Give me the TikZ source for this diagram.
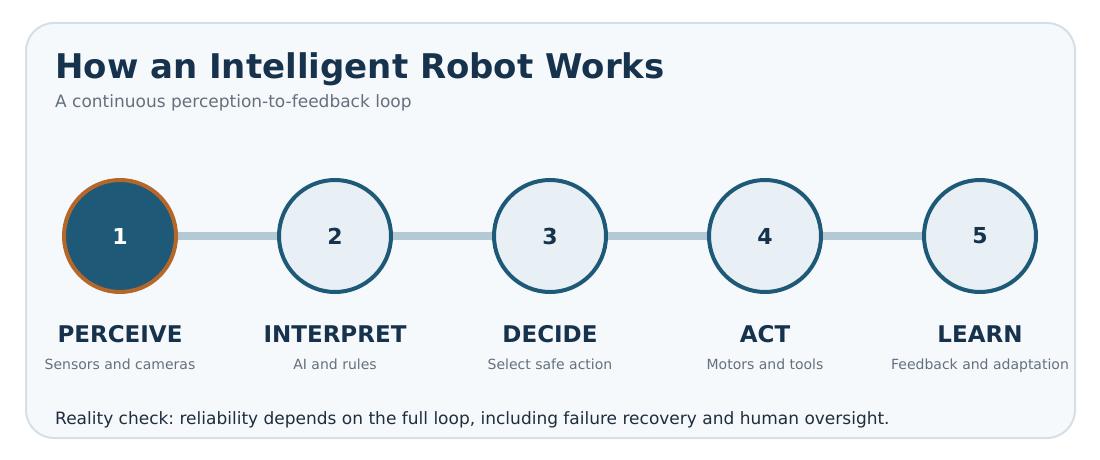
\documentclass[tikz,border=0pt]{standalone}
\usepackage{fontspec}
\setmainfont{DejaVu Sans}
\usepackage{xcolor}
\usepackage{tikz}
\usetikzlibrary{positioning}
\definecolor{cNavy}{HTML}{17324D}
\definecolor{cTeal}{HTML}{1E5A78}
\definecolor{cOrange}{HTML}{B5672A}
\definecolor{cPale}{HTML}{E9F0F5}
\definecolor{cTrack}{HTML}{B3CAD5}
\definecolor{cGray}{HTML}{64707D}
\definecolor{cPanel}{HTML}{F6F9FB}
\definecolor{cEdge}{HTML}{D5DFE7}
\definecolor{cInk}{HTML}{1F2D3D}
\frenchspacing

\begin{document}
\begin{tikzpicture}[
    x=1pt, y=-1pt,
    stage/.style={circle, draw=cTeal, line width=4pt, minimum size=112pt,
                  inner sep=0pt, fill=cPale, text=cNavy,
                  font=\fontsize{22}{26}\selectfont\bfseries},
    active/.style={stage, fill=cTeal, draw=cOrange, text=white},
    track/.style={draw=cTrack, line width=8pt},
    stagename/.style={anchor=base, inner sep=0pt, text=cNavy,
                      font=\fontsize{23}{27}\selectfont\bfseries},
    stagenote/.style={anchor=base, inner sep=0pt, text=cGray,
                      font=\fontsize{14}{17}\selectfont},
  ]
  \useasboundingbox (0,0) rectangle (1100,460);

  % Panel
  \draw[cEdge, fill=cPanel, line width=2pt, rounded corners=28pt]
    (26,23) rectangle (1075,438);

  % Heading
  \node[anchor=base west, inner sep=0pt, text=cNavy,
        font=\fontsize{34}{40}\selectfont\bfseries]
    (title) at (55,78) {How an Intelligent Robot Works};
  \node[anchor=base west, inner sep=0pt, text=cGray,
        font=\fontsize{17}{20}\selectfont]
    (sub) at (55,107) {A continuous perception-to-feedback loop};

  % Stages
  \node[active] (s1) at (120,236) {1};
  \node[stage]  (s2) at (335,236) {2};
  \node[stage]  (s3) at (550,236) {3};
  \node[stage]  (s4) at (765,236) {4};
  \node[stage]  (s5) at (980,236) {5};

  \draw[track] (s1) -- (s2);
  \draw[track] (s2) -- (s3);
  \draw[track] (s3) -- (s4);
  \draw[track] (s4) -- (s5);

  % Stage labels
  \node[stagename] (n1) at (120,342) {PERCEIVE};
  \node[stagename] (n2) at (335,342) {INTERPRET};
  \node[stagename] (n3) at (550,342) {DECIDE};
  \node[stagename] (n4) at (765,342) {ACT};
  \node[stagename] (n5) at (980,342) {LEARN};

  \node[stagenote] (d1) at (120,369) {Sensors and cameras};
  \node[stagenote] (d2) at (335,369) {AI and rules};
  \node[stagenote] (d3) at (550,369) {Select safe action};
  \node[stagenote] (d4) at (765,369) {Motors and tools};
  \node[stagenote] (d5) at (980,369) {Feedback and adaptation};

  % Footnote
  \node[anchor=base west, inner sep=0pt, text=cInk,
        font=\fontsize{17}{20}\selectfont]
    (note) at (55,424) {Reality check: reliability depends on the full loop,
    including failure recovery and human oversight.};
\end{tikzpicture}
\end{document}
